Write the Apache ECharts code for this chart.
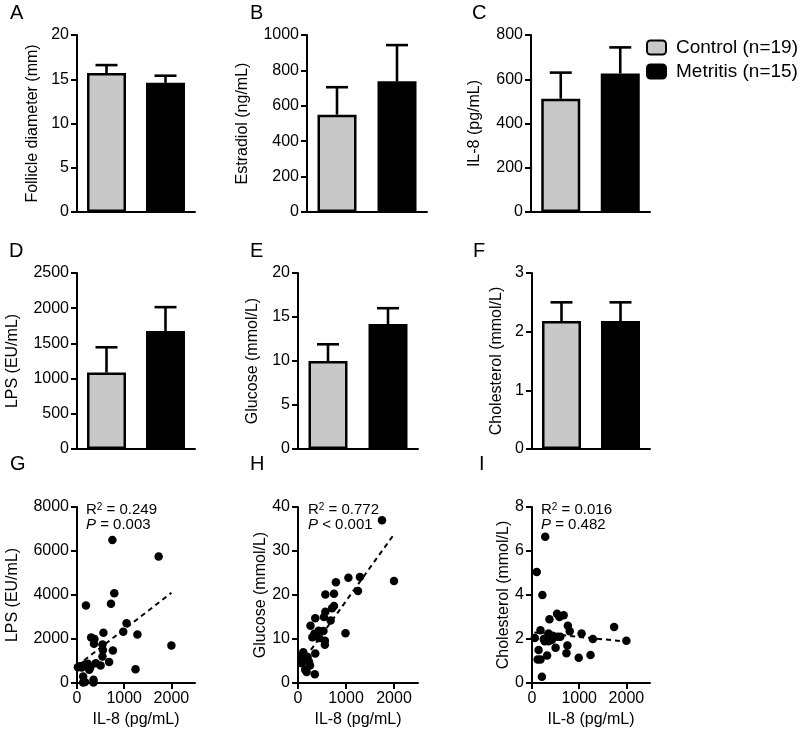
<!DOCTYPE html>
<html><head><meta charset="utf-8">
<style>html,body{margin:0;padding:0;background:#fff}#c{width:800px;height:731px}</style>
<script src="https://cdn.jsdelivr.net/npm/echarts@6/dist/echarts.min.js"></script>
</head><body><div id="c"></div>
<script>
// ---------- DATA ----------
const groups = ['Control (n=19)', 'Metritis (n=15)'];
const categories = ['Control', 'Metritis'];

const follicleMean = [15.7, 14.6];
const follicleErr  = [0.9, 0.8];
const estradiolMean = [550, 738];
const estradiolErr  = [155, 205];
const il8Mean = [512, 626];
const il8Err  = [118, 118];
const lpsMean = [1085, 1675];
const lpsErr  = [360, 340];
const glucoseMean = [10.0, 14.2];
const glucoseErr  = [1.9, 1.8];
const cholMean = [2.18, 2.18];
const cholErr  = [0.32, 0.32];

const ticksA = [0, 5, 10, 15, 20];
const ticksB = [0, 200, 400, 600, 800, 1000];
const ticksC = [0, 200, 400, 600, 800];
const ticksD = [0, 500, 1000, 1500, 2000, 2500];
const ticksE = [0, 5, 10, 15, 20];
const ticksF = [0, 1, 2, 3];
const ticksG = [0, 2000, 4000, 6000, 8000];
const ticksH = [0, 10, 20, 30, 40];
const ticksI = [0, 2, 4, 6, 8];
const scatterXTicks = [0, 1000, 2000];
const scatterXMax = 2500;

const lpsVsIl8 = [[750,6500],[1730,5750],[790,4080],[190,3520],[720,3600],[1050,2720],[980,2330],[1280,2200],[2000,1700],[1240,620],[560,2280],[300,2070],[370,2000],[360,1780],[540,1750],[550,1500],[760,1480],[540,1200],[680,950],[500,800],[400,900],[60,760],[160,830],[230,880],[260,600],[130,300],[350,150],[130,20],[350,20],[20,720],[200,780],[280,700],[170,50],[100,700]];
const glucoseVsIl8 = [[1750,37],[2000,23.2],[1050,23.9],[1290,24.1],[1250,20.9],[790,22.9],[570,20.1],[750,20.3],[750,17.5],[710,17],[570,16.2],[680,14.2],[540,15],[360,14.7],[990,11.3],[260,13],[430,11.9],[530,11.8],[340,11.2],[300,10.4],[440,10.2],[560,9.6],[560,8.7],[360,6.7],[350,2],[110,7],[200,5.9],[80,4.5],[250,4],[180,2.5],[150,3],[160,5.2],[70,6],[230,4.8]];
const cholVsIl8 = [[280,6.65],[100,5.05],[220,4.0],[370,2.9],[530,3.15],[580,3.0],[670,3.08],[760,2.6],[800,2.35],[1740,2.55],[1050,2.25],[1290,2.0],[2000,1.92],[180,2.4],[60,2.05],[350,2.25],[400,2.07],[540,2.1],[270,1.9],[350,1.9],[500,1.6],[750,1.7],[140,1.5],[730,1.35],[320,1.25],[990,1.15],[1240,1.27],[120,1.07],[180,1.07],[210,0.28],[440,2.15],[600,2.1],[250,2.0],[420,1.95]];

const trendLps = [[0, 780], [2000, 4100]];
const trendGlucose = [[50, 4.2], [2000, 33.8]];
const trendChol = [[50, 2.3], [2000, 1.88]];

const statsLps = ['0.249', '= 0.003'];
const statsGlucose = ['0.772', '< 0.001'];
const statsChol = ['0.016', '= 0.482'];

// ---------- LAYOUT ----------
const FONT = '"Liberation Sans", Arial, Helvetica, sans-serif';
const barPanels = [
  {letter:'A', grid:{left:77, top:35, width:118, height:177}, ticks:ticksA, mean:follicleMean, err:follicleErr, name:'Follicle diameter (mm)', gap:36, lx:10, ly:13},
  {letter:'B', grid:{left:307, top:35, width:120, height:177}, ticks:ticksB, mean:estradiolMean, err:estradiolErr, name:'Estradiol (ng/mL)', gap:56, lx:250, ly:13},
  {letter:'C', grid:{left:531, top:35, width:119, height:177}, ticks:ticksC, mean:il8Mean, err:il8Err, name:'IL-8 (pg/mL)', gap:48, lx:472, ly:13},
  {letter:'D', grid:{left:77, top:273, width:118, height:176}, ticks:ticksD, mean:lpsMean, err:lpsErr, name:'LPS (EU/mL)', gap:56, lx:9, ly:251},
  {letter:'E', grid:{left:298, top:273, width:120, height:176}, ticks:ticksE, mean:glucoseMean, err:glucoseErr, name:'Glucose (mmol/L)', gap:37, lx:250, ly:251},
  {letter:'F', grid:{left:532, top:273, width:118, height:176}, ticks:ticksF, mean:cholMean, err:cholErr, name:'Cholesterol (mmol/L)', gap:27, lx:473, ly:251}
];
const scatterPanels = [
  {letter:'G', grid:{left:77, top:507, width:118, height:176}, ticks:ticksG, data:lpsVsIl8, trend:trendLps, stats:statsLps, name:'LPS (EU/mL)', gap:56, lx:10, ly:464, sx:86},
  {letter:'H', grid:{left:298, top:507, width:120, height:176}, ticks:ticksH, data:glucoseVsIl8, trend:trendGlucose, stats:statsGlucose, name:'Glucose (mmol/L)', gap:28, lx:250, ly:464, sx:308},
  {letter:'I', grid:{left:532, top:507, width:118, height:176}, ticks:ticksI, data:cholVsIl8, trend:trendChol, stats:statsChol, name:'Cholesterol (mmol/L)', gap:20, lx:479, ly:464, sx:541}
];

const plain = v => String(v);
const axisLine = {show:true, lineStyle:{color:'#000', width:2}};
function yAxisOpt(gi, ticks, name, gap) {
  return {
    type:'value', gridIndex:gi, min:ticks[0], max:ticks[ticks.length-1], interval:ticks[1]-ticks[0],
    name:name, nameLocation:'middle', nameGap:gap,
    nameTextStyle:{fontSize:16, color:'#000', fontFamily:FONT},
    axisLine:axisLine,
    axisTick:{show:true, length:6, lineStyle:{color:'#000', width:2}},
    axisLabel:{fontSize:16, color:'#000', margin:8, fontFamily:FONT, formatter:plain},
    splitLine:{show:false}
  };
}
function errRender(params, api) {
  const x = api.value(0), m = api.value(1), e = api.value(2);
  const p0 = api.coord([x, m]);
  const p1 = api.coord([x, m + e]);
  const half = 11;
  const st = {stroke:'#000', lineWidth:2.6};
  return {type:'group', children:[
    {type:'line', shape:{x1:p0[0], y1:p0[1], x2:p1[0], y2:p1[1]}, style:st},
    {type:'line', shape:{x1:p1[0]-half, y1:p1[1], x2:p1[0]+half, y2:p1[1]}, style:st}
  ]};
}

const grids = [], xAxes = [], yAxes = [], series = [], graphics = [];
const colors = ['#c8c8c8', '#000'];

barPanels.forEach((p, i) => {
  grids.push(p.grid);
  xAxes.push({type:'category', gridIndex:i, data:categories, axisLine:axisLine, axisTick:{show:false}, axisLabel:{show:false}, splitLine:{show:false}});
  yAxes.push(yAxisOpt(i, p.ticks, p.name, p.gap));
  groups.forEach((g, k) => {
    const d = categories.map((c, j) => j === k ? p.mean[j] : '-');
    series.push({type:'bar', name:g, xAxisIndex:i, yAxisIndex:i, data:d, barWidth:39, barGap:'-100%',
      itemStyle:{color:colors[k], borderColor:'#000', borderWidth:2.5}, z:2});
  });
  series.push({type:'custom', xAxisIndex:i, yAxisIndex:i, renderItem:errRender, z:3,
    data:categories.map((c, j) => [j, p.mean[j], p.err[j]])});
  graphics.push({type:'text', x:p.lx, y:p.ly, style:{text:p.letter, fontSize:20, fontFamily:FONT, fill:'#000', verticalAlign:'middle', align:'left'}});
});

scatterPanels.forEach((p, n) => {
  const i = barPanels.length + n;
  grids.push(p.grid);
  xAxes.push({type:'value', gridIndex:i, min:0, max:scatterXMax, interval:1000,
    name:'IL-8 (pg/mL)', nameLocation:'middle', nameGap:29,
    nameTextStyle:{fontSize:16, color:'#000', fontFamily:FONT},
    axisLine:axisLine,
    axisTick:{show:true, length:6, lineStyle:{color:'#000', width:2}, customValues:scatterXTicks},
    axisLabel:{fontSize:16, color:'#000', margin:8, fontFamily:FONT, customValues:scatterXTicks, formatter:plain},
    splitLine:{show:false}});
  yAxes.push(yAxisOpt(i, p.ticks, p.name, p.gap));
  series.push({type:'line', xAxisIndex:i, yAxisIndex:i, data:p.trend, showSymbol:false, silent:true,
    lineStyle:{color:'#000', width:2, type:[5,4]}, z:2});
  series.push({type:'scatter', xAxisIndex:i, yAxisIndex:i, data:p.data, symbolSize:8.5,
    itemStyle:{color:'#000', opacity:1}, z:3});
  graphics.push({type:'text', x:p.lx, y:p.ly, style:{text:p.letter, fontSize:20, fontFamily:FONT, fill:'#000', verticalAlign:'middle', align:'left'}});
  graphics.push({type:'text', x:p.sx, y:502, style:{
    text:'{r|R}{s|2}{r| = ' + p.stats[0] + '}\n{i|P}{r| ' + p.stats[1] + '}',
    fontSize:15, fontFamily:FONT, fill:'#000', verticalAlign:'top', align:'left',
    rich:{
      r:{fontSize:15, lineHeight:15, fontFamily:FONT, fill:'#000'},
      s:{fontSize:10, lineHeight:15, verticalAlign:'top', fontFamily:FONT, fill:'#000', padding:[0,0,6,0]},
      i:{fontSize:15, lineHeight:15, fontStyle:'italic', fontFamily:FONT, fill:'#000'}
    }}});
});

const chart = echarts.init(document.getElementById('c'), null, {renderer:'canvas'});
chart.setOption({
  animation:false,
  backgroundColor:'#fff',
  textStyle:{fontFamily:FONT},
  legend:{data:groups, orient:'vertical', left:646, top:38, padding:0, itemWidth:19, itemHeight:14, itemGap:5,
    textStyle:{fontSize:19, color:'#000', fontFamily:FONT, padding:[0,0,0,5]}, selectedMode:false},
  grid:grids, xAxis:xAxes, yAxis:yAxes, series:series, graphic:graphics
});
</script></body></html>
